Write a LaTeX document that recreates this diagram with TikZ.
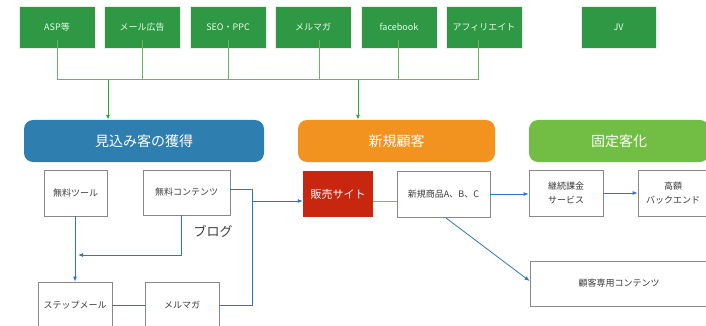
\documentclass[tikz,border=0pt]{standalone}
\usepackage{fontspec}
\setmainfont{Noto Sans CJK JP}
\usetikzlibrary{arrows.meta,calc}
\definecolor{topgreen}{RGB}{46,152,68}
\definecolor{busgreen}{RGB}{95,185,95}
\definecolor{catblue}{RGB}{46,126,176}
\definecolor{catorange}{RGB}{242,147,32}
\definecolor{catgreen}{RGB}{114,190,68}
\definecolor{sitered}{RGB}{200,38,14}
\definecolor{linkblue}{RGB}{40,120,200}
\definecolor{lightlink}{RGB}{110,170,225}
\definecolor{boxgray}{RGB}{135,135,140}
\definecolor{txtgray}{RGB}{60,60,60}
\tikzset{
  x=1pt,y=-1pt,
  topbox/.style={fill=topgreen,draw=white!85!gray,line width=0.6pt,minimum width=76pt,minimum height=42pt,inner sep=0pt,text=white!90!green,font=\fontsize{9}{11}\selectfont},
  catbox/.style={rounded corners=9pt,minimum height=42pt,inner sep=0pt,text=white,font=\fontsize{14}{16}\selectfont},
  wbox/.style={draw=boxgray,line width=0.8pt,fill=white,minimum height=46pt,inner sep=0pt,text=txtgray,align=center,font=\fontsize{9}{14}\selectfont},
  bus/.style={draw=busgreen,line width=1pt},
  busarrow/.style={draw=topgreen!80!green,line width=1pt,-{Latex[length=5pt,width=4pt]}},
  link/.style={draw=linkblue,line width=0.8pt},
  linkarrow/.style={link,-{Latex[length=5pt,width=4pt]}},
}
\begin{document}
\begin{tikzpicture}
\useasboundingbox (0,0) rectangle (706,326);
% top boxes
\node[topbox] (asp) at (57,27) {ASP等};
\node[topbox] (mail) at (142,27) {メール広告};
\node[topbox] (seo) at (228,27) {SEO・PPC};
\node[topbox] (mag) at (313,27) {メルマガ};
\node[topbox] (fb) at (399,27) {facebook};
\node[topbox] (aff) at (484,27) {アフィリエイト};
\node[topbox,minimum width=75pt] (jv) at (618.5,27) {JV};
% bus
\coordinate (busL) at (57,80);
\coordinate (busR) at (478,80);
\coordinate (j1) at (108,80);
\coordinate (j2) at (358,80);
\draw[bus] (asp.south |- 0,40) -- (busL) -- (busR) -- (busR |- 0,40);
\draw[bus] (mail.south |- 0,40) -- (mail.south |- busL);
\draw[bus] (seo.south |- 0,40) -- (seo.south |- busL);
\draw[bus] (319,40) -- (319,80);
\draw[bus] (398,40) -- (398,80);
% category boxes
\node[catbox,fill=catblue,minimum width=240pt] (cat1) at (144,141) {見込み客の獲得};
\node[catbox,fill=catorange,minimum width=197pt] (cat2) at (396.5,141) {新規顧客};
\node[catbox,fill=catgreen,minimum width=180pt] (cat3) at (619,141) {固定客化};
\draw[busarrow] (j1) -- (j1 |- cat1.north);
\draw[busarrow] (j2) -- (j2 |- cat2.north);
% row 2
\node[wbox,minimum width=63pt] (tool) at (75.5,193) {無料ツール};
\node[wbox,minimum width=87pt,minimum height=45pt] (cont) at (186.5,192.5) {無料コンテンツ};
\node[fill=sitered,minimum width=70pt,minimum height=46pt,inner sep=0pt,text=white,font=\fontsize{11}{13}\selectfont] (site) at (338,194) {販売サイト};
\node[wbox,minimum width=93pt] (prod) at (443.5,194) {新規商品A、B、C};
\node[wbox,minimum width=74pt] (keep) at (566,193) {継続課金\\サービス};
\node[wbox,minimum width=70pt] (high) at (673,193) {高額\\バックエンド};
% row 3
\node[wbox,minimum width=74pt] (step) at (75,305) {ステップメール};
\node[wbox,minimum width=74pt] (mag2) at (182,305) {メルマガ};
\node[wbox,minimum width=178pt,minimum height=45pt] (cust) at (619,283.5) {顧客専用コンテンツ};
\node[text=txtgray,font=\fontsize{13}{15}\selectfont,inner sep=0pt] (blog) at (213,231) {ブログ};
% blue connectors
\coordinate (vx) at (252,189);
\coordinate (tj) at (252,201);
\coordinate (ja) at (78,255);
\draw[link] (cont.east |- vx) -- (vx) -- (vx |- mag2.east) -- (mag2.east);
\draw[linkarrow] (tj) -- (tj -| site.west);
\draw[linkarrow] (tool.south -| 75,0) -- (step.north -| 75,0);
\draw[linkarrow] (181,215) |- (ja);
\draw[link] (step.east) -- (mag2.west);
\draw[draw=lightlink,line width=1pt] (site.east |- tj) -- (prod.west |- tj);
\draw[linkarrow] (prod.east) -- (keep.west |- prod.east);
\draw[linkarrow] (keep.east) -- (high.west |- keep.east);
\draw[linkarrow] (446,218) -- (cust.west |- 0,281);
\end{tikzpicture}
\end{document}
